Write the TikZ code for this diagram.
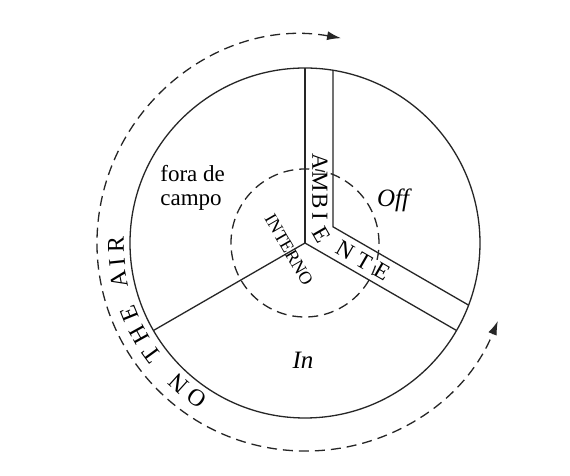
\documentclass[tikz,border=0pt]{standalone}
\usepackage{fontspec}
\setmainfont{Liberation Serif}
\usetikzlibrary{arrows.meta}

\begin{document}
\begin{tikzpicture}[
  x=0.5pt, y=0.5pt,
  wall/.style={line width=0.65pt, draw=black!85},
  hidden/.style={line width=0.65pt, draw=black!85, dash pattern=on 5pt off 3pt},
  loop/.style={{Latex[length=7pt,width=4.5pt]}-{Latex[length=7pt,width=4.5pt]}},
  label/.style={font=\fontsize{11.5}{12}\selectfont, align=left, inner sep=0pt},
  zone/.style={font=\fontsize{12.5}{13}\selectfont\itshape, inner sep=0pt},
  airletter/.style={font=\fontsize{12}{12}\selectfont, inner sep=0pt},
  bandletter/.style={font=\fontsize{11.5}{12}\selectfont, inner sep=0pt},
  inner/.style={font=\fontsize{9}{9}\selectfont, inner sep=0pt}
]
  \fill[white] (-305,-233) rectangle (265,243);
  \useasboundingbox (-305,-233) rectangle (265,243);

  \coordinate (c) at (0,0);
  \coordinate (corner) at (28,16.2);

  \draw[wall] (c) circle (175);
  \draw[hidden] (c) circle (74);

  \draw[wall] (c) -- (90:175);
  \draw[wall] (c) -- (-30:175);
  \draw[wall] (c) -- (210:175);
  \draw[wall] (80.8:175) -- (corner) -- (-20.8:175);

  \draw[hidden, loop] (80:208) arc[start angle=80, end angle=338, radius=208];

  \foreach \ch/\ang in {O/235, N/228, T/216, H/209, E/202, A/191, I/186, R/180.5}
    \node[airletter, rotate=\ang-90] (air\ang) at (\ang:189) {\ch};

  \foreach \ch/\px/\py/\rot [count=\i] in {A/15/81/-90, M/15/61/-90, B/15/42/-90, I/15/27/-90,
      E/17/8/-60, N/40/-7/-30, T/59/-18/-30, E/77/-28/-30}
    \node[bandletter, rotate=\rot] (amb\i) at (\px,\py) {\ch};

  \node[inner, rotate=-60] (interno) at (-16,-7) {INTERNO};
  \node[label, anchor=west] (fora) at (-145,55) {fora de\\campo};
  \node[zone] (off) at (88,43) {Off};
  \node[zone] (in) at (-2,-117) {In};
\end{tikzpicture}
\end{document}
